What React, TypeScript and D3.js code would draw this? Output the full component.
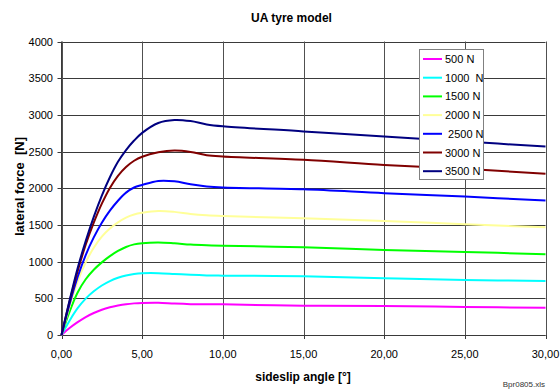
import React from "react";
import * as d3 from "d3";

const slips = [0, 0.5, 1, 1.5, 2, 2.5, 3, 3.5, 4, 4.5, 5, 6, 7, 8, 9, 10, 15, 20, 25, 30];

const f500 = [0, 95, 175, 245, 300, 345, 378, 402, 420, 431, 437, 440, 428, 420, 418, 418, 399, 395, 382, 372];
const f1000 = [0, 195, 365, 495, 595, 675, 735, 780, 812, 832, 842, 843, 832, 820, 812, 809, 801, 773, 750, 736];
const f1500 = [0, 320, 580, 760, 890, 990, 1075, 1145, 1200, 1235, 1252, 1262, 1250, 1232, 1222, 1216, 1195, 1159, 1132, 1100];
const f2000 = [0, 390, 730, 990, 1190, 1340, 1450, 1535, 1600, 1642, 1665, 1690, 1678, 1650, 1632, 1622, 1590, 1555, 1509, 1468];
const f2500 = [0, 420, 790, 1090, 1330, 1530, 1695, 1830, 1940, 2010, 2045, 2100, 2095, 2055, 2025, 2010, 1985, 1932, 1886, 1832];
const f3000 = [0, 455, 870, 1230, 1530, 1790, 2005, 2170, 2290, 2375, 2430, 2490, 2514, 2495, 2450, 2432, 2388, 2318, 2265, 2196];
const f3500 = [0, 470, 910, 1280, 1610, 1900, 2150, 2360, 2520, 2650, 2755, 2890, 2930, 2915, 2870, 2845, 2775, 2705, 2636, 2568];

const seriesNames = ["500 N", "1000  N", "1500 N", "2000 N", " 2500 N", "3000 N", "3500 N"];
const seriesValues = [f500, f1000, f1500, f2000, f2500, f3000, f3500];
const seriesColors = ["#FF00FF", "#00FFFF", "#00FF00", "#FFFF99", "#0000FF", "#800000", "#000080"];

const xTicks = [0, 5, 10, 15, 20, 25, 30];
const yTicks = [0, 500, 1000, 1500, 2000, 2500, 3000, 3500, 4000];

const title = "UA tyre model";
const xTitle = "sideslip angle [°]";
const yTitle = "lateral force  [N]";
const footnote = "Bpr0805.xls";

export default function App() {
  const W = 560, H = 390;
  const left = 61.5, right = 545.5, top = 41.5, bottom = 335;
  const x = d3.scaleLinear().domain([0, 30]).range([left, right]);
  const y = d3.scaleLinear().domain([0, 4000]).range([bottom, top]);
  const line = d3
    .line<number>()
    .x((_, i) => x(slips[i]))
    .y((d) => y(d))
    .curve(d3.curveCatmullRom.alpha(0.5));
  const font = "'Liberation Sans', Arial, sans-serif";
  const fmt = (v: number) => v.toFixed(2).replace(".", ",");
  const legX = 419.5, legY = 49.5, legW = 64, legH = 130;
  const rowH = 18.7;

  return (
    <svg
      width={W}
      height={H}
      style={{ position: "absolute", left: 0, top: 0, background: "#fff" }}
      fontFamily={font}
    >
      <rect x={0} y={0} width={W} height={H} fill="#fff" />
      {yTicks.map((t) => (
        <line key={"gy" + t} x1={left} x2={right} y1={Math.round(y(t)) + 0.5} y2={Math.round(y(t)) + 0.5} stroke="#3a3a3a" strokeWidth={1} />
      ))}
      {xTicks.map((t) => (
        <line key={"gx" + t} x1={Math.round(x(t)) + 0.5} x2={Math.round(x(t)) + 0.5} y1={top} y2={bottom} stroke="#505050" strokeWidth={1} />
      ))}
      {yTicks.map((t) => (
        <g key={"ty" + t}>
          <line x1={left - 4} x2={left} y1={Math.round(y(t)) + 0.5} y2={Math.round(y(t)) + 0.5} stroke="#3a3a3a" />
          <text x={53} y={y(t) + 4} textAnchor="end" fontSize={11} fill="#000">
            {t}
          </text>
        </g>
      ))}
      {xTicks.map((t) => (
        <g key={"tx" + t}>
          <line x1={Math.round(x(t)) + 0.5} x2={Math.round(x(t)) + 0.5} y1={bottom} y2={bottom + 4} stroke="#3a3a3a" />
          <text x={x(t)} y={358} textAnchor="middle" fontSize={11} fill="#000">
            {fmt(t)}
          </text>
        </g>
      ))}
      <line x1={left} x2={left} y1={top} y2={bottom} stroke="#3a3a3a" />
      <line x1={left} x2={right} y1={bottom + 0.5} y2={bottom + 0.5} stroke="#3a3a3a" />
      {seriesValues.map((vals, i) => (
        <path key={"s" + i} d={line(vals) || ""} fill="none" stroke={seriesColors[i]} strokeWidth={2} />
      ))}
      <rect x={legX} y={legY} width={legW} height={legH} fill="#fff" stroke="#808080" strokeWidth={1} />
      {seriesNames.map((n, i) => {
        const cy = 59 + i * rowH;
        return (
          <g key={"l" + i}>
            <line x1={423} x2={442} y1={cy} y2={cy} stroke={seriesColors[i]} strokeWidth={2} />
            <text x={445} y={cy + 4} fontSize={11} fill="#000" style={{ whiteSpace: "pre" }}>
              {n}
            </text>
          </g>
        );
      })}
      <text x={291.5} y={22} textAnchor="middle" fontSize={12} fontWeight="bold" fill="#000">
        {title}
      </text>
      <text x={303} y={381} textAnchor="middle" fontSize={12} fontWeight="bold" fill="#000">
        {xTitle}
      </text>
      <text
        transform="translate(24,236) rotate(-90)"
        x={0}
        y={0}
        textAnchor="start"
        fontSize={13}
        fontWeight="bold"
        fill="#000"
        style={{ whiteSpace: "pre" }}
      >
        {yTitle}
      </text>
      <text x={545} y={387} textAnchor="end" fontSize={8} fill="#333">
        {footnote}
      </text>
    </svg>
  );
}
